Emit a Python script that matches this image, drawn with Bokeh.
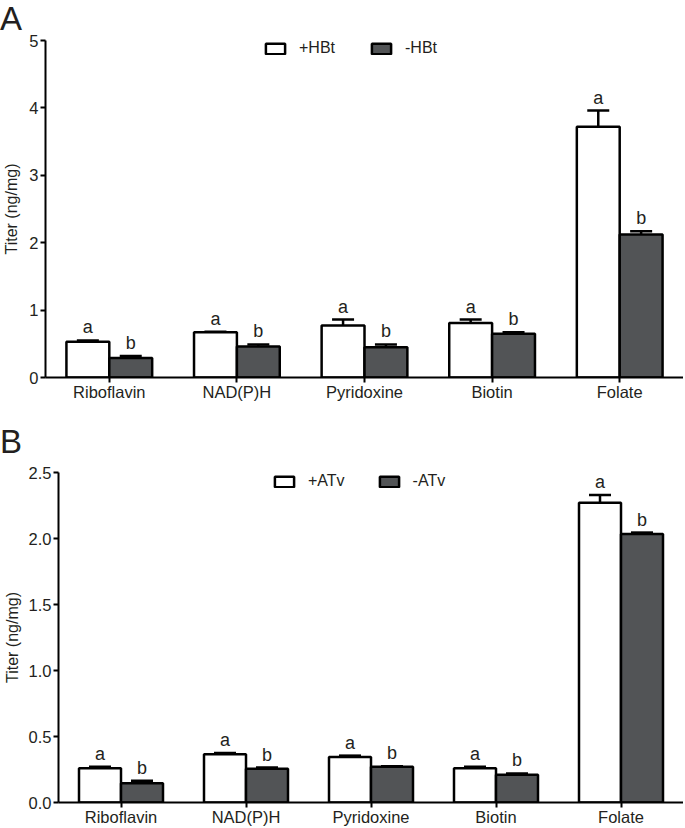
from bokeh.plotting import figure
from bokeh.models import (ColumnDataSource, FactorRange, Range1d, Whisker, TeeHead,
                          Legend, LegendItem, FixedTicker, NumeralTickFormatter, Div)
from bokeh.transform import dodge
from bokeh.embed import file_html
from bokeh.resources import INLINE
from bokeh.core.properties import value

# ---------------- data ----------------
categories = ["Riboflavin", "NAD(P)H", "Pyridoxine", "Biotin", "Folate"]

# Panel A
a_plus_hbt = [0.53, 0.67, 0.77, 0.81, 3.72]
a_plus_hbt_sd = [0.02, 0.01, 0.09, 0.05, 0.24]
a_minus_hbt = [0.29, 0.46, 0.45, 0.65, 2.12]
a_minus_hbt_sd = [0.03, 0.03, 0.04, 0.02, 0.05]
a_series = ["+HBt", "-HBt"]
a_yticks = [0, 1, 2, 3, 4, 5]

# Panel B
b_plus_atv = [0.26, 0.365, 0.345, 0.26, 2.27]
b_plus_atv_sd = [0.01, 0.01, 0.01, 0.01, 0.06]
b_minus_atv = [0.145, 0.255, 0.27, 0.21, 2.035]
b_minus_atv_sd = [0.02, 0.01, 0.005, 0.01, 0.01]
b_series = ["+ATv", "-ATv"]
b_yticks = [0.0, 0.5, 1.0, 1.5, 2.0, 2.5]

sig_first = ["a", "a", "a", "a", "a"]
sig_second = ["b", "b", "b", "b", "b"]

y_title = "Titer (ng/mg)"
panel_letters = ["A", "B"]

# ---------------- style ----------------
FONT = "Liberation Sans"
TXT = "#231f20"
DARK = "#525456"
LW = 2.5
BW = 0.336
W = 683


def letter_div(letter, height, line_height):
    return Div(text=letter, width=60, height=height, margin=0,
               styles={"font-family": "'Liberation Sans', Arial, sans-serif",
                       "font-size": "33px", "line-height": line_height, "color": TXT})


def panel(s1, e1, s2, e2, names, yticks, fmt, H, left, top, bottom,
          label_standoff, leg_xy, leg_spacing):
    p = figure(width=W, height=H, x_range=FactorRange(factors=categories),
               y_range=Range1d(0, yticks[-1]), output_backend="svg", title=None,
               toolbar_location=None, min_border_left=left, min_border_right=0,
               min_border_top=top, min_border_bottom=bottom)
    p.outline_line_color = None
    p.xgrid.visible = False
    p.ygrid.visible = False
    p.background_fill_color = "white"
    p.border_fill_color = "white"

    src = ColumnDataSource(dict(
        cats=categories, v1=s1, v2=s2,
        u1=[v + e for v, e in zip(s1, e1)],
        u2=[v + e for v, e in zip(s2, e2)],
        l1=sig_first, l2=sig_second))

    r1 = p.vbar(x=dodge("cats", -BW / 2, range=p.x_range), top="v1", width=BW,
                source=src, fill_color="white", line_color="black", line_width=LW)
    r2 = p.vbar(x=dodge("cats", BW / 2, range=p.x_range), top="v2", width=BW,
                source=src, fill_color=DARK, line_color="black", line_width=LW)

    for off, up, lo in [(-BW / 2, "u1", "v1"), (BW / 2, "u2", "v2")]:
        w = Whisker(base=dodge("cats", off, range=p.x_range), upper=up, lower=lo,
                    source=src, dimension="height", line_width=LW, line_color="black",
                    upper_head=TeeHead(size=22, line_width=LW, line_color="black"),
                    lower_head=None)
        p.add_layout(w)

    for off, up, lab in [(-BW / 2, "u1", "l1"), (BW / 2, "u2", "l2")]:
        p.text(x=dodge("cats", off, range=p.x_range), y=up, text=lab, source=src,
               text_font=value(FONT), text_font_size="18px", text_color=TXT,
               text_align="center", text_baseline="bottom", y_offset=-3)

    leg = Legend(items=[LegendItem(label=names[0], renderers=[r1]),
                        LegendItem(label=names[1], renderers=[r2])],
                 orientation="horizontal", location=leg_xy, padding=0, margin=0,
                 spacing=leg_spacing, glyph_width=24, glyph_height=13, label_standoff=12,
                 label_height=13, label_text_font=FONT, label_text_font_size="16px",
                 label_text_color=TXT, border_line_color=None,
                 background_fill_alpha=0)
    p.add_layout(leg)

    for ax in (p.xaxis, p.yaxis):
        ax.axis_line_width = 2
        ax.axis_line_color = "black"
        ax.major_tick_line_width = 2
        ax.major_tick_line_color = "black"
        ax.major_tick_in = 0
        ax.major_tick_out = 5
        ax.minor_tick_line_color = None
        ax.major_label_text_font = FONT
        ax.major_label_text_color = TXT
        ax.major_label_text_font_size = "16.5px"
    p.xaxis.major_label_standoff = 0
    p.yaxis.major_label_standoff = 2
    p.yaxis.ticker = FixedTicker(ticks=yticks)
    p.yaxis.formatter = NumeralTickFormatter(format=fmt)
    p.yaxis.axis_label = y_title
    p.yaxis.axis_label_text_font = FONT
    p.yaxis.axis_label_text_font_size = "16px"
    p.yaxis.axis_label_text_font_style = "normal"
    p.yaxis.axis_label_text_color = TXT
    p.yaxis.axis_label_standoff = label_standoff
    return p


pA = panel(a_plus_hbt, a_plus_hbt_sd, a_minus_hbt, a_minus_hbt_sd, a_series,
           a_yticks, "0", H=398, left=42, top=10, bottom=51, label_standoff=6,
           leg_xy=(218, 320), leg_spacing=34)
pB = panel(b_plus_atv, b_plus_atv_sd, b_minus_atv, b_minus_atv_sd, b_series,
           b_yticks, "0.0", H=373, left=53, top=17, bottom=25, label_standoff=5,
           leg_xy=(214, 312), leg_spacing=32)

roots = [letter_div(panel_letters[0], 30, "37px"), pA,
         letter_div(panel_letters[1], 27, "27px"), pB]
open("out.html", "w").write(file_html(roots, INLINE))
